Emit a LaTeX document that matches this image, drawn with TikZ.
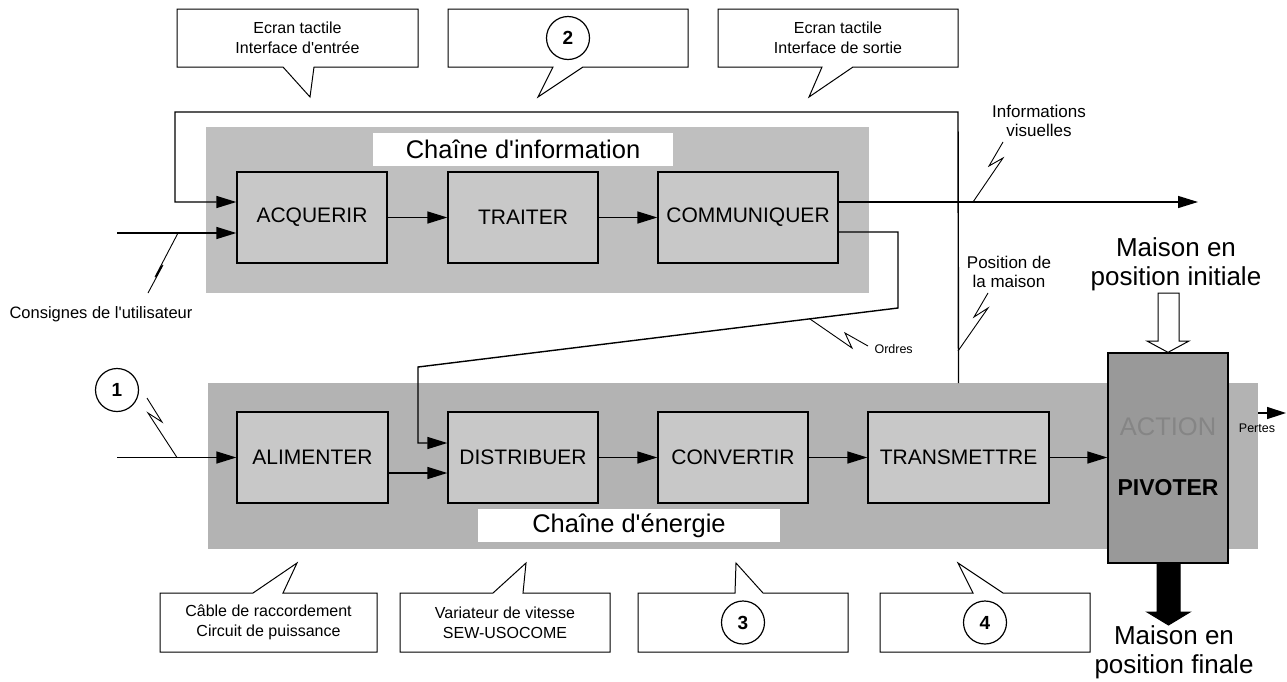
\documentclass[tikz,border=0pt]{standalone}
\usepackage{fontspec}
\setmainfont{Liberation Sans}[Ligatures=TeXOff]
\usetikzlibrary{arrows.meta,calc}
\definecolor{infogray}{HTML}{BFBFBF}
\definecolor{enggray}{HTML}{B3B3B3}
\definecolor{blockgray}{HTML}{C8C8C8}
\definecolor{actgray}{HTML}{999999}
\definecolor{acttext}{HTML}{858585}
\begin{document}
\begin{tikzpicture}[x=1pt,y=-1pt,
  bgbox/.style={inner sep=0pt, outer sep=0pt},
  block/.style={draw, line width=1.3pt, fill=blockgray, minimum height=91pt, inner sep=0pt, font=\fontsize{21}{25}\selectfont},
  arr/.style={line width=1.4pt, -{Triangle[length=20pt,width=12pt]}},
  bolt/.style={line width=0.9pt},
  callout/.style={draw, line width=1pt, fill=white, line join=miter},
  ctext/.style={align=center, font=\fontsize{16}{20}\selectfont},
  numc/.style={draw, circle, line width=1.2pt, minimum size=43pt, inner sep=0pt, font=\bfseries\fontsize{19}{22}\selectfont},
  small/.style={align=center, font=\fontsize{17}{19.5}\selectfont},
  tiny/.style={font=\fontsize{12.5}{14}\selectfont},
  title/.style={fill=white, inner sep=0pt, minimum height=33pt, font=\fontsize{25.5}{28}\selectfont},
  big/.style={align=center, font=\fontsize{26}{29}\selectfont}]
\useasboundingbox (0,0) rectangle (1287,681);

% backgrounds
\node[bgbox, fill=infogray, minimum width=663pt, minimum height=166pt] (infobg) at (537.5,210) {};
\node[bgbox, fill=enggray, minimum width=1050pt, minimum height=166pt] (engbg) at (733,466) {};
\node[title, minimum width=300pt] (infotitle) at (523,149.5) {Chaîne d'information};
\node[title, minimum width=302pt] (engtitle) at (629,525.5) {Chaîne d'énergie};

% blocks
\node[block, minimum width=150pt] (acq) at (312,217.5) {ACQUERIR};
\node[block, minimum width=150pt] (trait) at (523,217.5) {TRAITER};
\node[block, minimum width=180pt] (comm) at (748,217.5) {COMMUNIQUER};
\node[block, minimum width=151pt] (alim) at (312.5,457.5) {ALIMENTER};
\node[block, minimum width=150pt] (distrib) at (523,457.5) {DISTRIBUER};
\node[block, minimum width=150pt] (conv) at (733,457.5) {CONVERTIR};
\node[block, minimum width=181pt] (trans) at (958.5,457.5) {TRANSMETTRE};
\node[draw, line width=1.3pt, fill=actgray, minimum width=120pt, minimum height=210pt, inner sep=0pt] (action) at (1168,458) {};
\node[text=acttext, font=\fontsize{25.5}{28}\selectfont] (acttxt) at (1168,427) {ACTION};
\node[font=\bfseries\fontsize{23}{26}\selectfont] (pivot) at (1168,488) {PIVOTER};

% coordinates
\coordinate (cons) at (117,233);
\coordinate (ein) at (117,457.5);
\coordinate (infoend) at (1198,202);
\coordinate (pend) at (1286,413);

% info chain connectors
\draw[arr] (acq.east) -- (trait.west);
\draw[arr] (trait.east) -- (comm.west);
\draw[arr] (cons) -- ($(acq.west)+(0,15.5)$);
\draw[arr] (trans.north |- engbg.north) -- (958,112) -- (175,112) -- (175,202) -- ($(acq.west)+(0,-15.5)$);
\draw[arr] ($(comm.east)+(0,-15.5)$) -- (infoend);
\draw[arr] ($(comm.east)+(0,14.5)$) -- (898,232) -- (898,308) -- (418,367) -- (418,443) -- ($(distrib.west)+(0,-14.5)$);

% energy chain connectors
\draw[arr] (ein) -- (alim.west);
\draw[arr] ($(alim.east)+(0,15.5)$) -- ($(distrib.west)+(0,15.5)$);
\draw[arr] (distrib.east) -- (conv.west);
\draw[arr] (conv.east) -- (trans.west);
\draw[arr] (trans.east) -- (action.west |- trans.east);
\draw[line width=1.4pt, -{Triangle[length=19pt,width=12pt]}] (engbg.east |- pend) -- (pend);

% lightning marks
\draw[bolt] (178,233) -- (155,277) -- (163,265) -- (148,293);
\draw[bolt] (177,457.5) -- (148,413) -- (162,422) -- (147,398);
\draw[bolt] (973,202) -- (1003,158) -- (989,166) -- (1003,142);
\draw[bolt] (958,351) -- (988,308) -- (974,317) -- (988,293);
\draw[bolt] (810,319) -- (852,348) -- (845,333) -- (868,346);

% labels
\node[font=\fontsize{16.5}{19}\selectfont] (lcons) at (101,314) {Consignes de l'utilisateur};
\node[small] (linfo) at (1039,121) {Informations\\visuelles};
\node[small] (lpos) at (1009,272) {Position de\\la maison};
\node[tiny, anchor=west] (lord) at (871,349) {Ordres};
\node[tiny] (lpert) at (1257,428) {Pertes};
\node[numc] (n1) at (117,390) {1};

% action arrows
\draw[line width=1pt, fill=white] (1158,293) -- (1179,293) -- (1179,341) -- (1189,341) -- (action.north) -- (1147,341) -- (1158,341) -- cycle;
\draw[line width=1pt, fill=black] (1157,563) -- (1180,563) -- (1180,612) -- (1190,612) -- (1168.5,625) -- (1147,612) -- (1157,612) -- cycle;
\node[big] (minit) at (1176,264) {Maison en\\position initiale};
\node[big] (mfin) at (1174,652) {Maison en\\position finale};

% top callouts
\draw[callout] (177,9) -- (418,9) -- (418,67) -- (314,67) -- (310,97) -- (283,67) -- (177,67) -- cycle;
\node[ctext] (c1) at (297.5,38) {Ecran tactile\\Interface d'entrée};
\draw[callout] (448,9) -- (688,9) -- (688,67) -- (583,67) -- (538,97) -- (553,67) -- (448,67) -- cycle;
\node[numc] (n2) at (568,38) {2};
\draw[callout] (718,9) -- (958,9) -- (958,67) -- (853,67) -- (809,97) -- (822,67) -- (718,67) -- cycle;
\node[ctext] (c3) at (838,38) {Ecran tactile\\Interface de sortie};

% bottom callouts
\draw[callout] (160,593) -- (253,593) -- (297,563) -- (283,593) -- (377,593) -- (377,652) -- (160,652) -- cycle;
\node[ctext] (cA) at (268.5,622.5) {Câble de raccordement\\Circuit de puissance};
\draw[callout] (400,593) -- (493,593) -- (526,563) -- (523,593) -- (610,593) -- (610,652) -- (400,652) -- cycle;
\node[ctext] (cB) at (505,622.5) {Variateur de vitesse\\SEW-USOCOME};
\draw[callout] (638,593) -- (735,593) -- (736,563) -- (763,593) -- (848,593) -- (848,652) -- (638,652) -- cycle;
\node[numc] (n3) at (743,622.5) {3};
\draw[callout] (880,593) -- (973,593) -- (958,563) -- (1003,593) -- (1090,593) -- (1090,652) -- (880,652) -- cycle;
\node[numc] (n4) at (985,622.5) {4};
\end{tikzpicture}
\end{document}
